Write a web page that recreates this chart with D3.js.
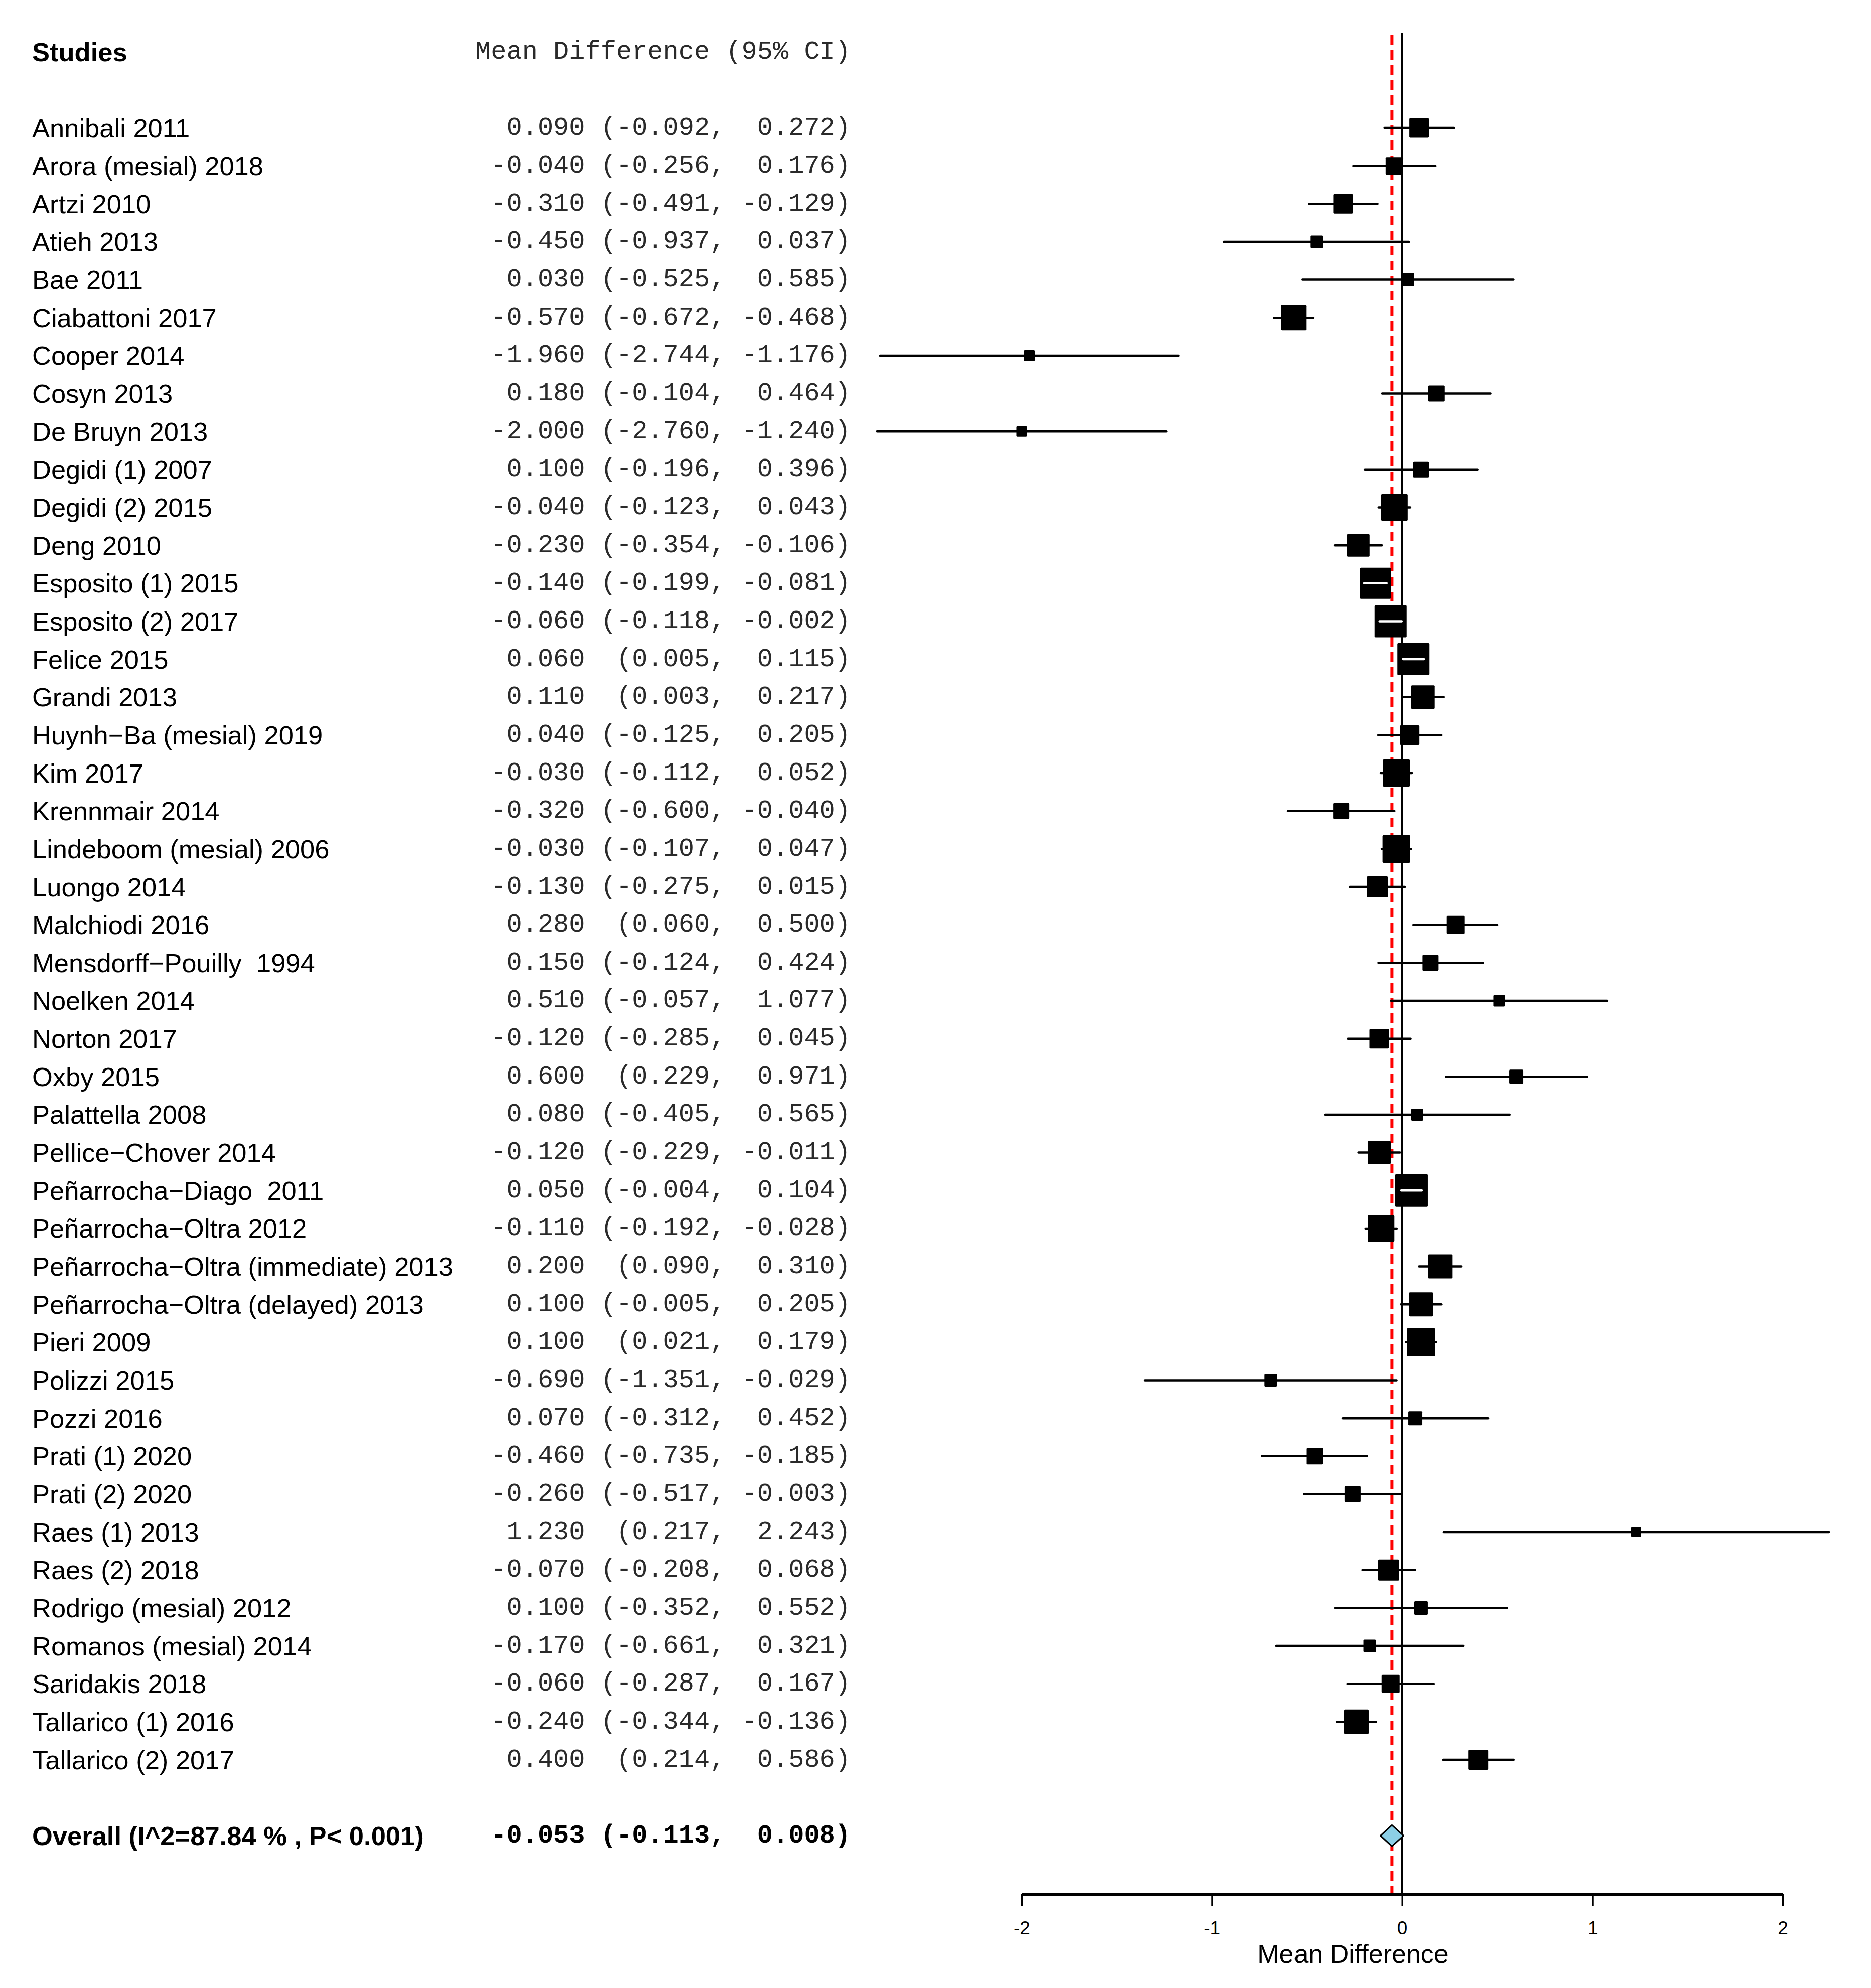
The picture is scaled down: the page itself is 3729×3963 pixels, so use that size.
<!DOCTYPE html>
<html>
<head>
<meta charset="utf-8">
<script src="https://cdn.jsdelivr.net/npm/d3@7"></script>
<style>
  html, body { margin: 0; padding: 0; background: #fff; }
  svg text { white-space: pre; }
</style>
</head>
<body>
<svg id="forest"></svg>
<script>
// 研究名称
const studies = [
    "Annibali 2011", "Arora (mesial) 2018", "Artzi 2010", "Atieh 2013", "Bae 2011",
    "Ciabattoni 2017", "Cooper 2014", "Cosyn 2013", "De Bruyn 2013", "Degidi (1) 2007",
    "Degidi (2) 2015", "Deng 2010", "Esposito (1) 2015", "Esposito (2) 2017", "Felice 2015",
    "Grandi 2013", "Huynh\u2212Ba (mesial) 2019", "Kim 2017", "Krennmair 2014", "Lindeboom (mesial) 2006",
    "Luongo 2014", "Malchiodi 2016", "Mensdorff\u2212Pouilly  1994", "Noelken 2014", "Norton 2017",
    "Oxby 2015", "Palattella 2008", "Pellice\u2212Chover 2014", "Pe\u00f1arrocha\u2212Diago  2011", "Pe\u00f1arrocha\u2212Oltra 2012",
    "Pe\u00f1arrocha\u2212Oltra (immediate) 2013", "Pe\u00f1arrocha\u2212Oltra (delayed) 2013", "Pieri 2009", "Polizzi 2015", "Pozzi 2016",
    "Prati (1) 2020", "Prati (2) 2020", "Raes (1) 2013", "Raes (2) 2018", "Rodrigo (mesial) 2012",
    "Romanos (mesial) 2014", "Saridakis 2018", "Tallarico (1) 2016", "Tallarico (2) 2017"
];
const meanDiff = [
    0.090, -0.040, -0.310, -0.450, 0.030, -0.570, -1.960, 0.180, -2.000, 0.100,
    -0.040, -0.230, -0.140, -0.060, 0.060, 0.110, 0.040, -0.030, -0.320, -0.030,
    -0.130, 0.280, 0.150, 0.510, -0.120, 0.600, 0.080, -0.120, 0.050, -0.110,
    0.200, 0.100, 0.100, -0.690, 0.070, -0.460, -0.260, 1.230, -0.070, 0.100,
    -0.170, -0.060, -0.240, 0.400
];
const ciLower = [
    -0.092, -0.256, -0.491, -0.937, -0.525, -0.672, -2.744, -0.104, -2.760, -0.196,
    -0.123, -0.354, -0.199, -0.118, 0.005, 0.003, -0.125, -0.112, -0.600, -0.107,
    -0.275, 0.060, -0.124, -0.057, -0.285, 0.229, -0.405, -0.229, -0.004, -0.192,
    0.090, -0.005, 0.021, -1.351, -0.312, -0.735, -0.517, 0.217, -0.208, -0.352,
    -0.661, -0.287, -0.344, 0.214
];
const ciUpper = [
    0.272, 0.176, -0.129, 0.037, 0.585, -0.468, -1.176, 0.464, -1.240, 0.396,
    0.043, -0.106, -0.081, -0.002, 0.115, 0.217, 0.205, 0.052, -0.040, 0.047,
    0.015, 0.500, 0.424, 1.077, 0.045, 0.971, 0.565, -0.011, 0.104, -0.028,
    0.310, 0.205, 0.179, -0.029, 0.452, -0.185, -0.003, 2.243, 0.068, 0.552,
    0.321, 0.167, -0.136, 0.586
];
// 相对权重 (%)，由方块面积估计
const weights = [
    2.02, 1.63, 2.02, 0.83, 0.90, 3.32, 0.64, 1.36, 0.59, 1.36,
    3.73, 2.69, 5.10, 5.44, 5.44, 2.93, 2.02, 3.87, 1.36, 4.02,
    2.34, 1.72, 1.36, 0.70, 2.02, 1.04, 0.76, 2.81, 5.61, 3.73,
    3.06, 3.06, 4.16, 0.83, 1.04, 1.45, 1.36, 0.53, 2.34, 0.97,
    0.83, 1.72, 3.19, 2.12
];
const overallLabel = "Overall (I^2=87.84 % , P< 0.001)";
const overallStats = [-0.053, -0.113, 0.008]; // 估计值, 下限, 上限
const xTicks = [-2, -1, 0, 1, 2];

const W = 3729, H = 3963;
const nameX = 64;        // 研究名称左边
const numRight = 1696;   // 数值列右边
const axisY = 3776;
const lineTop = 66;
const sansFont = "'Liberation Sans', Arial, sans-serif";
const monoFont = "'Liberation Mono', 'Courier New', monospace";

const svg = d3.select("#forest")
    .attr("width", W)
    .attr("height", H)
    .attr("viewBox", `0 0 ${W} ${H}`);
svg.append("rect").attr("width", W).attr("height", H).attr("fill", "#fff");

const xScale = d3.scaleLinear().domain([-2, 2]).range([2036, 3553]);
const yScale = d3.scaleLinear().domain([0, studies.length - 1]).range([255, 3508]);
const boxScale = d3.scaleSqrt().domain([0, d3.max(weights)]).range([0, 65]);
const overallRow = studies.length + 1;

// 格式化 "est (lo, hi)"
function fmt(v) {
    return v.toFixed(3).padStart(6, " ");
}
function ciText(est, lo, hi) {
    return fmt(est) + " " + ("(" + lo.toFixed(3)).padStart(7, " ") + ", " + fmt(hi) + ")";
}

const rows = studies.map((name, i) => ({
    name, i, est: meanDiff[i], lo: ciLower[i], hi: ciUpper[i], w: weights[i]
}));

drawTable();
drawRefLines();
drawStudies();
drawOverall();
drawAxis();

function drawTable() {
    // 表头
    svg.append("text")
        .attr("x", nameX).attr("y", yScale(-2))
        .attr("dominant-baseline", "central")
        .style("font-family", sansFont).style("font-weight", "bold").style("font-size", "52.5px")
        .text("Studies");
    svg.append("text")
        .attr("x", numRight).attr("y", yScale(-2))
        .attr("text-anchor", "end").attr("dominant-baseline", "central")
        .attr("xml:space", "preserve")
        .style("font-family", monoFont).style("font-size", "52px").attr("fill", "#2a2a2a")
        .text("Mean Difference (95% CI)");

    svg.selectAll(".study-name")
        .data(rows)
        .enter().append("text")
        .attr("class", "study-name")
        .attr("x", nameX).attr("y", d => yScale(d.i))
        .attr("dominant-baseline", "central")
        .attr("xml:space", "preserve")
        .style("font-family", sansFont).style("font-size", "52.5px")
        .text(d => d.name);

    svg.selectAll(".study-ci")
        .data(rows)
        .enter().append("text")
        .attr("class", "study-ci")
        .attr("x", numRight).attr("y", d => yScale(d.i))
        .attr("text-anchor", "end").attr("dominant-baseline", "central")
        .attr("xml:space", "preserve")
        .style("font-family", monoFont).style("font-size", "52px").attr("fill", "#2a2a2a")
        .text(d => ciText(d.est, d.lo, d.hi));

    // 合并结果
    svg.append("text")
        .attr("x", nameX).attr("y", yScale(overallRow))
        .attr("dominant-baseline", "central")
        .attr("xml:space", "preserve")
        .style("font-family", sansFont).style("font-weight", "bold").style("font-size", "52.5px")
        .text(overallLabel);
    svg.append("text")
        .attr("x", numRight).attr("y", yScale(overallRow))
        .attr("text-anchor", "end").attr("dominant-baseline", "central")
        .attr("xml:space", "preserve")
        .style("font-family", monoFont).style("font-weight", "bold").style("font-size", "52px")
        .text(ciText(overallStats[0], overallStats[1], overallStats[2]));
}

function drawRefLines() {
    // 无效线 (0)
    svg.append("line")
        .attr("x1", xScale(0)).attr("x2", xScale(0))
        .attr("y1", lineTop).attr("y2", axisY)
        .attr("stroke", "#000").attr("stroke-width", 4.5);
    // 合并估计值 (红色虚线)
    svg.append("line")
        .attr("x1", xScale(overallStats[0])).attr("x2", xScale(overallStats[0]))
        .attr("y1", lineTop + 4).attr("y2", axisY)
        .attr("stroke", "#ff0000").attr("stroke-width", 6)
        .attr("stroke-dasharray", "19 11");
}

function drawStudies() {
    // 置信区间
    svg.selectAll(".ci-line")
        .data(rows)
        .enter().append("line")
        .attr("class", "ci-line")
        .attr("x1", d => xScale(d.lo)).attr("x2", d => xScale(d.hi))
        .attr("y1", d => yScale(d.i)).attr("y2", d => yScale(d.i))
        .attr("stroke", "#000").attr("stroke-width", 4.5)
        .attr("stroke-linecap", "round");
    // 权重方块
    svg.selectAll(".box")
        .data(rows)
        .enter().append("rect")
        .attr("class", "box")
        .attr("x", d => xScale(d.est) - boxScale(d.w) / 2)
        .attr("y", d => yScale(d.i) - boxScale(d.w) / 2)
        .attr("width", d => boxScale(d.w))
        .attr("height", d => boxScale(d.w))
        .attr("rx", 2)
        .attr("fill", "#000");
    // 方块比区间宽时, 用白线画出区间
    const inside = rows.filter(d =>
        xScale(d.est) - boxScale(d.w) / 2 < xScale(d.lo) &&
        xScale(d.est) + boxScale(d.w) / 2 > xScale(d.hi));
    svg.selectAll(".ci-white")
        .data(inside)
        .enter().append("line")
        .attr("class", "ci-white")
        .attr("x1", d => xScale(d.lo)).attr("x2", d => xScale(d.hi))
        .attr("y1", d => yScale(d.i)).attr("y2", d => yScale(d.i))
        .attr("stroke", "#fff").attr("stroke-width", 4.5)
        .attr("stroke-linecap", "round");
}

function drawOverall() {
    const cy = yScale(overallRow);
    const [est, lo, hi] = overallStats;
    const pts = [[xScale(lo), cy], [xScale(est), cy - 21], [xScale(hi), cy], [xScale(est), cy + 21]];
    svg.append("path")
        .attr("d", d3.line()(pts) + "Z")
        .attr("fill", "#8ccfe6")
        .attr("stroke", "#000").attr("stroke-width", 3)
        .attr("stroke-linejoin", "round");
}

function drawAxis() {
    const axis = d3.axisBottom(xScale)
        .tickValues(xTicks)
        .tickFormat(d => String(d))
        .tickSize(24)
        .tickSizeOuter(0)
        .tickPadding(30);
    const g = svg.append("g")
        .attr("class", "x-axis")
        .attr("transform", `translate(0,${axisY})`)
        .call(axis);
    g.select(".domain").attr("stroke-width", 5.5);
    g.selectAll(".tick line").attr("stroke-width", 3);
    g.selectAll(".tick text")
        .attr("fill", "#000")
        .style("font-family", sansFont)
        .style("font-size", "37px");

    // 轴标题, 居中于所有区间的范围
    const mid = (d3.min(ciLower) + d3.max(ciUpper)) / 2;
    svg.append("text")
        .attr("x", xScale(mid)).attr("y", 3895)
        .attr("text-anchor", "middle").attr("dominant-baseline", "central")
        .style("font-family", sansFont).style("font-size", "52px")
        .text("Mean Difference");
}
</script>
</body>
</html>
